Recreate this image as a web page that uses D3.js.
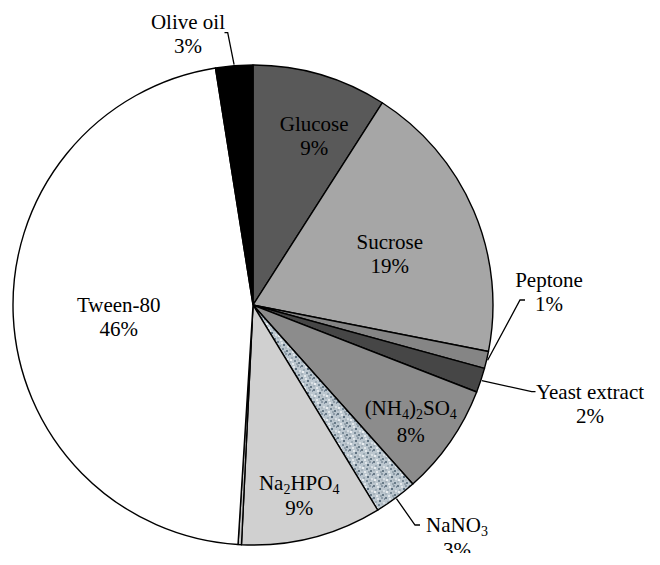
<!DOCTYPE html>
<html><head><meta charset="utf-8">
<script src="https://cdn.jsdelivr.net/npm/d3@7"></script>
<style>body{margin:0;background:#fff}svg{display:block}</style>
</head><body>
<svg id="c" width="660" height="565"></svg>
<script>
// ---- data ----
const categories = ["Glucose","Sucrose","Peptone","Yeast extract","(NH4)2SO4","NaNO3","Na2HPO4","Other","Tween-80","Olive oil"];
const values     = [9.05, 19.05, 1.15, 1.65, 7.5, 2.9, 9.46, 0.23, 46.5, 2.5];
const pctLabels  = ["9%","19%","1%","2%","8%","3%","9%","","46%","3%"];
const fills      = ["#595959","#a6a6a6","#858585","#464646","#8c8c8c","url(#speck)","#d0d0d0","#c4c4c4","#ffffff","#000000"];

// ---- layout ----
const svg = d3.select("#c");
const cx = 253, cy = 305, R = 240;
const font = "'Liberation Serif','Times New Roman',serif";

// speckled texture for NaNO3
const defs = svg.append("defs");
const pat = defs.append("pattern").attr("id","speck").attr("patternUnits","userSpaceOnUse")
  .attr("width",12).attr("height",12);
pat.append("rect").attr("width",12).attr("height",12).attr("fill","#bcc7cf");
const specks = [[0,0,"#6a7b88"],[4,1,"#dfe5e9"],[8,0,"#8e9ca8"],[2,4,"#9eacb6"],[6,3,"#5f7180"],[10,5,"#d6dde2"],
  [0,8,"#a7b3bc"],[5,7,"#7a8b98"],[9,9,"#687a87"],[3,10,"#e2e7ea"],[7,10,"#96a4ae"],[11,1,"#8190a0"],[1,6,"#e8ecef"],[8,6,"#adb8c0"]];
specks.forEach(s=>pat.append("rect").attr("x",s[0]).attr("y",s[1]).attr("width",2).attr("height",2).attr("fill",s[2]));

const pie = d3.pie().sort(null).value(d=>d.v).startAngle(0).endAngle(2*Math.PI);
const data = categories.map((c,i)=>({c, v:values[i], p:pctLabels[i], f:fills[i]}));
const arcs = pie(data);
const arc = d3.arc().innerRadius(0).outerRadius(R);

const g = svg.append("g").attr("transform",`translate(${cx},${cy})`);
g.selectAll("path").data(arcs).enter().append("path")
  .attr("d",arc).attr("fill",d=>d.data.f)
  .attr("stroke","#000").attr("stroke-width",1.4).attr("stroke-linejoin","round");

function mid(d){return (d.startAngle+d.endAngle)/2;}
function polar(a,r){return [r*Math.sin(a), -r*Math.cos(a)];}

// label renderer with chemical subscripts
function writeName(t, name){
  if (name==="Tween-80"){ t.text(name); return; }
  const parts = name.split(/(\d)/).filter(s=>s.length);
  let sub = false;
  parts.forEach(p=>{
    if (/^\d$/.test(p)){
      t.append("tspan").attr("font-size",14).attr("dy", sub?0:4).text(p); sub = true;
    } else {
      t.append("tspan").attr("dy", sub?-4:0).text(p); sub = false;
    }
  });
}
function label(x, y, name, pct, gap){
  const t = svg.append("text").attr("x",x).attr("y",y).attr("text-anchor","middle")
    .attr("font-family",font).attr("font-size",21).attr("fill","#000");
  writeName(t, name);
  svg.append("text").attr("x",x).attr("y",y+(gap||24)).attr("text-anchor","middle")
    .attr("font-family",font).attr("font-size",21).attr("fill","#000").text(pct);
}

// inside labels: radius fraction, x tweak, y tweak, line gap
const inside = {"Glucose":[0.76,10,1,24],"Sucrose":[0.62,0,2,24],"Tween-80":[0.56,0,1,24],"(NH4)2SO4":[0.81,-2,-1,27],"Na2HPO4":[0.78,0,4,25]};
arcs.forEach(d=>{
  const o = inside[d.data.c]; if(!o) return;
  const [x,y] = polar(mid(d), R*o[0]);
  label(cx+x+o[1], cy+y+o[2], d.data.c, d.data.p, o[3]);
});

// outside labels with leader lines
const outside = {
  "Olive oil":    {elbow:[227.7,32.7], end:[224.5,32.7], text:[188,29], gap:24},
  "Peptone":      {elbow:[520,300], end:[525,300], text:[549,287], gap:24},
  "Yeast extract":{elbow:[531.7,391.7], end:[535.5,391.7], text:[590,399], gap:24},
  "NaNO3":        {elbow:[415,525], end:[420,525], text:[457,532], gap:25}
};
arcs.forEach(d=>{
  const o = outside[d.data.c]; if(!o) return;
  const [x,y] = polar(mid(d), R+1);
  svg.append("polyline").attr("points",[[cx+x,cy+y],o.elbow,o.end].map(p=>p.join(",")).join(" "))
    .attr("fill","none").attr("stroke","#000").attr("stroke-width",1.3);
  label(o.text[0], o.text[1], d.data.c, d.data.p, o.gap);
});

// bottom crop of the original figure
svg.append("rect").attr("x",0).attr("y",553).attr("width",660).attr("height",12).attr("fill","#fff");
</script>
</body></html>
